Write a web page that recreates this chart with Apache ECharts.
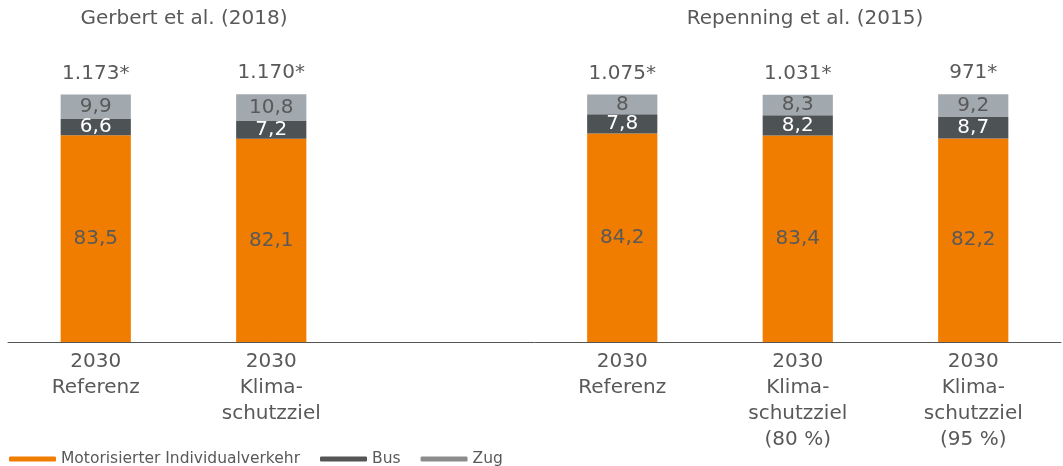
<!DOCTYPE html>
<html>
<head>
<meta charset="utf-8">
<script src="https://cdn.jsdelivr.net/npm/echarts@6/dist/echarts.min.js"></script>
<style>
  html, body { margin: 0; padding: 0; background: #fff; }
  #chart { width: 1063px; height: 466px; }
</style>
</head>
<body>
<div id="chart"></div>
<script>
// Modal split (%) of passenger transport 2030, two studies side by side
const categories = [
  '2030\nReferenz',
  '2030\nKlima-\nschutzziel',
  '',
  '2030\nReferenz',
  '2030\nKlima-\nschutzziel\n(80 %)',
  '2030\nKlima-\nschutzziel\n(95 %)'
];
const miv = [83.5, 82.1, null, 84.2, 83.4, 82.2];
const bus = [6.6, 7.2, null, 7.8, 8.2, 8.7];
const zug = [9.9, 10.8, null, 8, 8.3, 9.2];
const totals = ['1.173*', '1.170*', '', '1.075*', '1.031*', '971*'];
const studies = ['Gerbert et al. (2018)', 'Repenning et al. (2015)'];

const FONT = 'DejaVu Sans';
const TXT = '#595959';
const FS = 20;
const fmtNum = v => String(v.value).replace('.', ',');

const chart = echarts.init(document.getElementById('chart'));
chart.setOption({
  animation: false,
  textStyle: { fontFamily: FONT },
  title: [
    { text: studies[0], left: 179, top: 4, textAlign: 'center',
      textStyle: { fontFamily: FONT, fontSize: FS, fontWeight: 'normal', color: TXT } },
    { text: studies[1], left: 800, top: 4, textAlign: 'center',
      textStyle: { fontFamily: FONT, fontSize: FS, fontWeight: 'normal', color: TXT } }
  ],
  legend: {
    left: 4, top: 446,
    icon: 'roundRect', itemWidth: 47, itemHeight: 5, itemGap: 20,
    textStyle: { fontFamily: FONT, fontSize: 15.5, color: TXT },
    data: [
      { name: 'Motorisierter Individualverkehr', itemStyle: { color: '#F07D00' } },
      { name: 'Bus', itemStyle: { color: '#555555' } },
      { name: 'Zug', itemStyle: { color: '#8C8C8C' } }
    ]
  },
  grid: { left: 8, right: 2, top: 94.5, bottom: 124, containLabel: false },
  xAxis: {
    type: 'category',
    data: categories,
    axisLine: { lineStyle: { color: '#555', width: 1 } },
    axisTick: { show: false },
    axisLabel: { fontFamily: FONT, fontSize: FS, color: TXT, lineHeight: 26, margin: 7, interval: 0 }
  },
  yAxis: { type: 'value', min: 0, max: 100, show: false, splitLine: { show: false } },
  series: [
    {
      name: 'Motorisierter Individualverkehr', type: 'bar', stack: 'a', data: miv,
      barWidth: '40%', clip: false,
      itemStyle: { color: '#F07D00' },
      label: { show: true, position: 'inside', fontFamily: FONT, fontSize: FS, color: TXT, formatter: fmtNum }
    },
    {
      name: 'Bus', type: 'bar', stack: 'a', data: bus, clip: false,
      itemStyle: { color: '#4D5255' },
      label: { show: true, position: 'inside', fontFamily: FONT, fontSize: FS, color: '#fff', formatter: fmtNum }
    },
    {
      name: 'Zug', type: 'bar', stack: 'a', data: zug, clip: false,
      itemStyle: { color: '#A1A9AE' },
      label: { show: true, position: 'inside', fontFamily: FONT, fontSize: FS, color: TXT, formatter: fmtNum }
    },
    {
      // total passenger-km printed above each stack
      name: 'Summe', type: 'bar', stack: 'a', clip: false,
      data: zug.map(v => v == null ? null : 0),
      itemStyle: { color: 'transparent' },
      label: {
        show: true, position: 'top', distance: 11,
        fontFamily: FONT, fontSize: FS, color: TXT,
        formatter: p => totals[p.dataIndex]
      }
    }
  ]
});
</script>
</body>
</html>
